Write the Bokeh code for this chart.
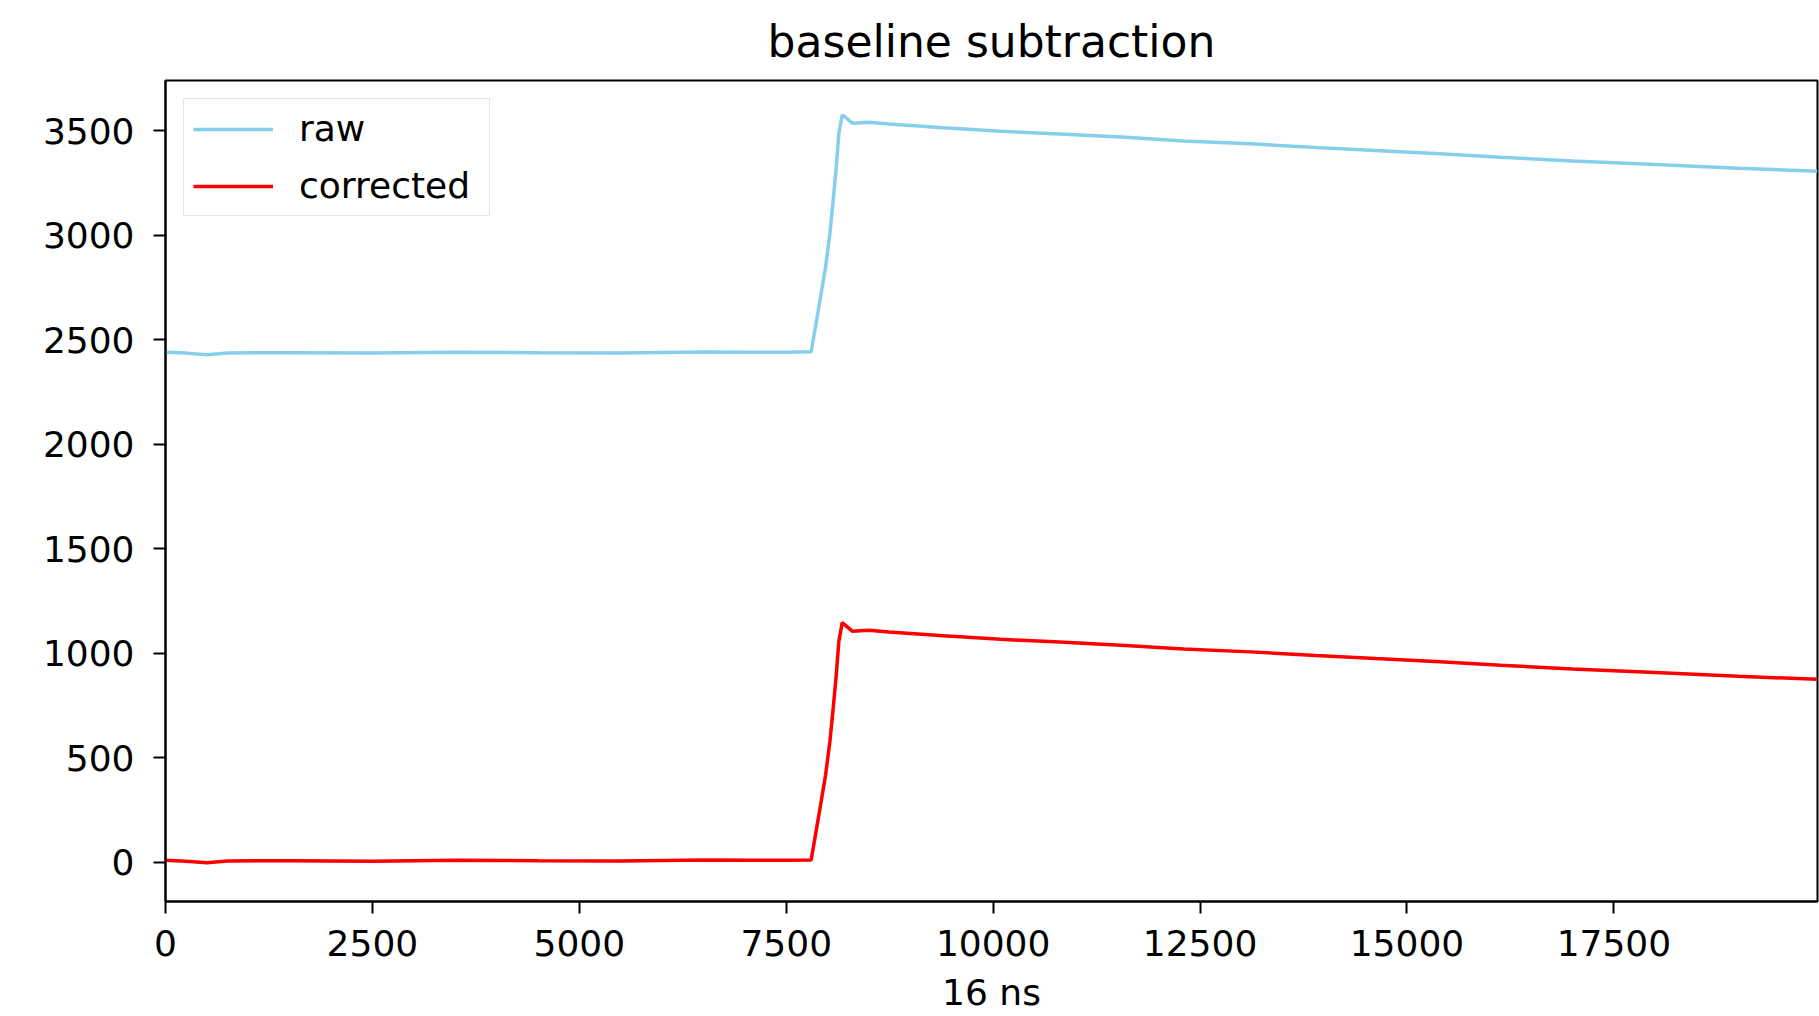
from bokeh.plotting import figure
from bokeh.models import Range1d, FixedTicker, Legend, LegendItem
from bokeh.embed import file_html
from bokeh.resources import INLINE

# ---- data ----
sample_idx = [0, 250, 500, 750, 1500, 2500, 3500, 4500, 5500, 6500, 7500,
              7801, 7894, 7975, 8027, 8067, 8104, 8135, 8176, 8216, 8297,
              8500, 8740, 9400, 10090, 10800, 11600, 12300, 13110, 13900,
              14620, 15400, 16130, 17000, 18000, 19000, 19960]

raw = [2440, 2436, 2428, 2437, 2438, 2436, 2440, 2438, 2437, 2441, 2440,
       2442, 2656, 2847, 3007, 3166, 3325, 3485, 3575, 3564, 3536,
       3540, 3532, 3514, 3497, 3484, 3468, 3451, 3437, 3420,
       3405, 3390, 3373, 3355, 3338, 3320, 3306]

corrected = [10, 6, -2, 7, 8, 6, 10, 8, 7, 11, 10,
             12, 226, 417, 577, 736, 895, 1055, 1147, 1134, 1106,
             1110, 1102, 1084, 1067, 1054, 1038, 1021, 1007, 990,
             975, 960, 943, 925, 908, 890, 876]

x_ticks = [0, 2500, 5000, 7500, 10000, 12500, 15000, 17500]
y_ticks = [0, 500, 1000, 1500, 2000, 2500, 3000, 3500]
x_label = "16 ns"

FONT = "DejaVu Sans"
FS = "36px"

p = figure(width=1819, height=1016, output_backend="svg", toolbar_location=None,
           x_range=Range1d(0, 19960), y_range=Range1d(-187, 3740),
           min_border_left=165, min_border_right=2, min_border_top=80,
           min_border_bottom=115, background_fill_color="white",
           border_fill_color="white")

p.title.text = "baseline subtraction"
p.title.align = "center"
p.title.text_font = FONT
p.title.text_font_size = "44px"
p.title.text_font_style = "normal"
p.title.text_color = "black"
p.title.standoff = 27

p.xgrid.visible = False
p.ygrid.visible = False
p.outline_line_color = "black"
p.outline_line_width = 2

for ax in (p.xaxis[0], p.yaxis[0]):
    ax.axis_line_width = 2
    ax.axis_line_color = "black"
    ax.major_tick_line_width = 2
    ax.major_tick_line_color = "black"
    ax.major_tick_out = 12
    ax.major_tick_in = 0
    ax.minor_tick_line_color = None
    ax.major_label_text_font = FONT
    ax.major_label_text_font_size = FS
    ax.major_label_text_color = "black"

p.xaxis[0].ticker = FixedTicker(ticks=x_ticks)
p.yaxis[0].ticker = FixedTicker(ticks=y_ticks)
p.xaxis[0].major_label_standoff = 16
p.yaxis[0].major_label_standoff = 19
p.xaxis[0].axis_label = x_label
p.xaxis[0].axis_label_text_font = FONT
p.xaxis[0].axis_label_text_font_size = FS
p.xaxis[0].axis_label_text_font_style = "normal"
p.xaxis[0].axis_label_text_color = "black"
p.xaxis[0].axis_label_standoff = 13

r_raw = p.line(sample_idx, raw, line_color="skyblue", line_width=3.5)
r_cor = p.line(sample_idx, corrected, line_color="red", line_width=3.5)

legend = Legend(items=[LegendItem(label="raw", renderers=[r_raw]),
                       LegendItem(label="corrected", renderers=[r_cor])],
                location="top_left", margin=18, padding=9, spacing=16,
                glyph_width=80, glyph_height=40, label_height=40,
                label_width=181,
                label_standoff=26, label_text_font=FONT,
                label_text_font_size=FS, label_text_color="black",
                border_line_color="#cccccc", border_line_width=1.5,
                background_fill_color="white", background_fill_alpha=0.8)
p.add_layout(legend)

open("out.html", "w").write(file_html(p, INLINE))
